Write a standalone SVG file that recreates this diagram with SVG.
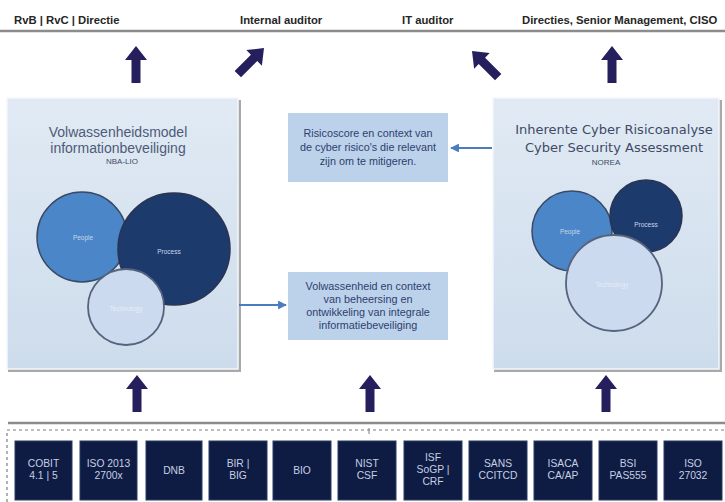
<svg xmlns="http://www.w3.org/2000/svg" width="725" height="502" viewBox="0 0 725 502">
  <defs>
    <linearGradient id="panelFill" x1="0" y1="0" x2="0" y2="1">
      <stop offset="0" stop-color="#e1eaf4"/>
      <stop offset="1" stop-color="#cddcec"/>
    </linearGradient>
    <!-- block arrow, tip at origin, pointing up -->
    <path id="blockArrow" d="M0,0 L11,14 L4.5,14 L4.5,37 L-4.5,37 L-4.5,14 L-11,14 Z"/>
    <marker id="lineHead" viewBox="0 0 10 10" refX="9" refY="5" markerWidth="4" markerHeight="4" orient="auto">
      <path d="M0,0 L10,5 L0,10 Z" fill="#4a7cc0"/>
    </marker>
  </defs>
  <style>
    .top-label { font-family: "Liberation Sans", Arial, sans-serif; font-size: 11.3px; font-weight: bold; fill: #262626; }
    .rule { stroke: #8c8c8c; stroke-width: 2.5; }
    .panel { fill: url(#panelFill); stroke: #f4f7fb; stroke-width: 1.5; }
    .shadow { fill: #a9a9a9; }
    .big-arrow { fill: #251f5e; }
    .note-box { fill: #bcd2ea; }
    .note { font-family: "Liberation Sans", Arial, sans-serif; font-size: 10.8px; fill: #2e4070; text-anchor: middle; }
    .title-l { font-family: "Liberation Sans", Arial, sans-serif; font-size: 14px; fill: #4d5b78; text-anchor: middle; }
    .title-r { font-family: "DejaVu Sans", Verdana, sans-serif; font-size: 13px; fill: #3e4a66; text-anchor: middle; }
    .sub { font-family: "Liberation Sans", Arial, sans-serif; font-size: 8px; fill: #3e4a66; text-anchor: middle; }
    .c-people { fill: #4a86c8; stroke: #3a4a66; stroke-width: 1.5; }
    .c-process { fill: #1d3a6d; stroke: #2a3350; stroke-width: 1.5; }
    .c-tech { fill: #cbdaee; stroke: #55637c; stroke-width: 1.8; }
    .c-label { font-family: "Liberation Sans", Arial, sans-serif; font-size: 6.5px; fill: #c9d6ea; text-anchor: middle; }
    .c-label-faint { font-family: "Liberation Sans", Arial, sans-serif; font-size: 6.5px; fill: #e6eef8; text-anchor: middle; }
    .link { stroke: #4a7cc0; stroke-width: 2.2; fill: none; marker-end: url(#lineHead); }
    .tile { fill: #0e1c44; stroke: #2b3a62; stroke-width: 1; }
    .tile-text { font-family: "Liberation Sans", Arial, sans-serif; font-size: 10.3px; fill: #c7cfe2; text-anchor: middle; }
    .dashed { stroke: #7a7f8c; stroke-width: 1.2; stroke-dasharray: 3 3; fill: none; }
  </style>

  <rect width="725" height="502" fill="#ffffff"/>

  <!-- audience row -->
  <g id="audiences">
    <text class="top-label" x="14" y="24">RvB | RvC | Directie</text>
    <text class="top-label" x="240" y="24">Internal auditor</text>
    <text class="top-label" x="402" y="24">IT auditor</text>
    <text class="top-label" x="522" y="24">Directies, Senior Management, CISO</text>
    <line class="rule" x1="0" y1="31" x2="725" y2="31"/>
  </g>

  <!-- left panel: maturity model -->
  <g id="maturity-model">
    <rect class="shadow" x="8" y="100" width="233" height="272"/>
    <rect class="panel" x="7" y="98" width="231" height="271"/>
    <text class="title-l" x="118" y="137">Volwassenheidsmodel</text>
    <text class="title-l" x="118" y="153">informationbeveiliging</text>
    <text class="sub" x="122" y="164">NBA-LIO</text>
    <circle class="c-people" cx="82" cy="237" r="45"/>
    <circle class="c-process" cx="174" cy="249" r="56"/>
    <circle class="c-tech" cx="126" cy="307" r="38"/>
    <text class="c-label" x="83" y="240">People</text>
    <text class="c-label" x="169" y="254">Process</text>
    <text class="c-label-faint" x="126" y="311">Technology</text>
  </g>

  <!-- right panel: cyber risk analysis -->
  <g id="cyber-assessment">
    <rect class="shadow" x="494" y="100" width="228" height="272"/>
    <rect class="panel" x="493" y="98" width="226" height="271"/>
    <text class="title-r" x="614" y="134">Inherente Cyber Risicoanalyse</text>
    <text class="title-r" x="614" y="152">Cyber Security Assessment</text>
    <text class="sub" x="606" y="165">NOREA</text>
    <circle class="c-people" cx="572" cy="231" r="40"/>
    <circle class="c-process" cx="646" cy="216" r="36"/>
    <circle class="c-tech" cx="614" cy="283" r="48"/>
    <text class="c-label" x="570" y="234">People</text>
    <text class="c-label" x="646" y="227">Process</text>
    <text class="c-label-faint" x="612" y="287">Technology</text>
  </g>

  <!-- centre notes -->
  <g id="note-risk">
    <rect class="note-box" x="288" y="113" width="160" height="69"/>
    <text class="note" x="368" y="137">Risicoscore en context van</text>
    <text class="note" x="368" y="151">de cyber risico's die relevant</text>
    <text class="note" x="368" y="165">zijn om te mitigeren.</text>
  </g>
  <g id="note-maturity">
    <rect class="note-box" x="288" y="272" width="160" height="68"/>
    <text class="note" x="368" y="290">Volwassenheid en context</text>
    <text class="note" x="368" y="303">van beheersing en</text>
    <text class="note" x="368" y="316">ontwikkeling van integrale</text>
    <text class="note" x="368" y="329">informatiebeveiliging</text>
  </g>

  <!-- frameworks row -->
  <g id="frameworks">
    <line class="rule" x1="8" y1="423" x2="725" y2="423"/>
    <path class="dashed" d="M7,502 L7,430 L725,430"/>
    <line x1="369" y1="428" x2="369" y2="434" stroke="#7a7f8c" stroke-width="1"/>
    <g id="fw-cobit"><rect class="tile" x="15" y="441" width="57" height="59"/>
      <text class="tile-text" x="43.5" y="467">COBIT</text><text class="tile-text" x="43.5" y="479">4.1 | 5</text></g>
    <g id="fw-iso2013"><rect class="tile" x="80" y="441" width="57" height="59"/>
      <text class="tile-text" x="108.5" y="467">ISO 2013</text><text class="tile-text" x="108.5" y="479">2700x</text></g>
    <g id="fw-dnb"><rect class="tile" x="146" y="441" width="56" height="59"/>
      <text class="tile-text" x="174" y="474">DNB</text></g>
    <g id="fw-bir"><rect class="tile" x="209" y="441" width="58" height="59"/>
      <text class="tile-text" x="238" y="467">BIR |</text><text class="tile-text" x="238" y="479">BIG</text></g>
    <g id="fw-bio"><rect class="tile" x="273" y="441" width="58" height="59"/>
      <text class="tile-text" x="302" y="474">BIO</text></g>
    <g id="fw-nist"><rect class="tile" x="338" y="441" width="58" height="59"/>
      <text class="tile-text" x="367" y="467">NIST</text><text class="tile-text" x="367" y="479">CSF</text></g>
    <g id="fw-isf"><rect class="tile" x="404" y="441" width="58" height="59"/>
      <text class="tile-text" x="433" y="461">ISF</text><text class="tile-text" x="433" y="473">SoGP |</text><text class="tile-text" x="433" y="485">CRF</text></g>
    <g id="fw-sans"><rect class="tile" x="469" y="441" width="58" height="59"/>
      <text class="tile-text" x="498" y="467">SANS</text><text class="tile-text" x="498" y="479">CCITCD</text></g>
    <g id="fw-isaca"><rect class="tile" x="534" y="441" width="58" height="59"/>
      <text class="tile-text" x="563" y="467">ISACA</text><text class="tile-text" x="563" y="479">CA/AP</text></g>
    <g id="fw-bsi"><rect class="tile" x="599" y="441" width="58" height="59"/>
      <text class="tile-text" x="628" y="467">BSI</text><text class="tile-text" x="628" y="479">PAS555</text></g>
    <g id="fw-iso27032"><rect class="tile" x="664" y="441" width="58" height="59"/>
      <text class="tile-text" x="693" y="467">ISO</text><text class="tile-text" x="693" y="479">27032</text></g>
  </g>

  <!-- connectors -->
  <g id="connectors">
    <use href="#blockArrow" class="big-arrow" transform="translate(136,46)"/>
    <use href="#blockArrow" class="big-arrow" transform="translate(264,48) rotate(45)"/>
    <use href="#blockArrow" class="big-arrow" transform="translate(472,51) rotate(-45)"/>
    <use href="#blockArrow" class="big-arrow" transform="translate(612,46)"/>
    <use href="#blockArrow" class="big-arrow" transform="translate(137,375)"/>
    <use href="#blockArrow" class="big-arrow" transform="translate(370,375)"/>
    <use href="#blockArrow" class="big-arrow" transform="translate(606,375)"/>
    <line class="link" x1="492" y1="148" x2="451" y2="148"/>
    <line class="link" x1="239" y1="305" x2="286" y2="305"/>
  </g>
</svg>
